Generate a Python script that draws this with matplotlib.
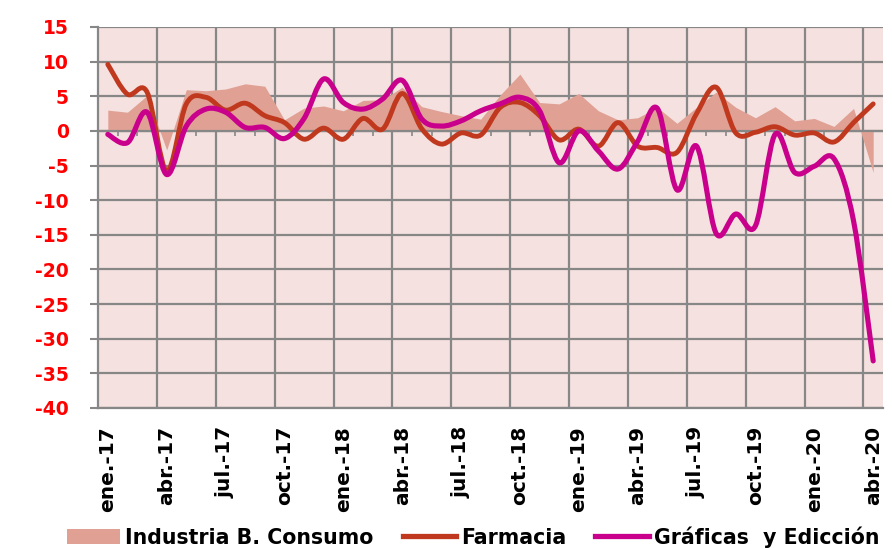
import numpy as np
import matplotlib
matplotlib.use("Agg")
import matplotlib.pyplot as plt
from matplotlib.path import Path
from matplotlib.patches import PathPatch, Patch
from matplotlib.lines import Line2D

# ---------------- data ----------------
meses = ["ene.", "feb.", "mar.", "abr.", "may.", "jun.", "jul.", "ago.", "sept.", "oct.", "nov.", "dic."]
years = ["17", "18", "19", "20"]
month_labels = [f"{m}-{y}" for y in years for m in meses][:40]

industria = [3.0, 2.7, 5.1, -2.75, 5.95, 5.8, 6.05, 6.8, 6.45, 1.6,
             3.3, 3.6, 2.9, 4.4, 4.5, 6.3, 3.5, 2.8, 2.2, 1.7,
             5.2, 8.2, 4.1, 3.9, 5.4, 2.9, 1.6, 1.9, 3.4, 1.1,
             3.4, 5.6, 3.4, 1.9, 3.5, 1.45, 1.8, 0.65, 3.25, -6.0]
farmacia = [9.6, 5.3, 5.6, -5.8, 3.9, 4.85, 3.0, 4.0, 2.2, 1.2,
            -1.2, 0.4, -1.2, 1.8, 0.25, 5.4, 0.3, -1.9, -0.3, -0.6,
            3.4, 4.1, 2.2, -1.3, 0.25, -2.2, 1.2, -2.2, -2.4, -3.1,
            2.5, 6.3, -0.3, -0.2, 0.6, -0.6, -0.3, -1.6, 1.2, 3.9]
graficas = [-0.5, -1.7, 2.7, -6.3, 0.7, 3.15, 2.7, 0.5, 0.5, -1.1,
            1.8, 7.5, 4.1, 3.15, 4.6, 7.3, 1.7, 0.7, 1.45, 2.9,
            3.9, 4.85, 2.9, -4.6, 0.0, -2.9, -5.5, -1.5, 3.25, -8.5,
            -2.2, -14.8, -12.0, -13.7, -0.5, -6.0, -5.1, -4.0, -13.0, -33.2]

series_names = ["Industria B. Consumo", "Farmacia", "Gráficas  y Edicción"]
yticks = list(range(-40, 16, 5))

# ---------------- style ----------------
C_BG = "#F5E1DF"
C_AREA = "#E0A094"
C_FARM = "#C0391E"
C_GRAF = "#C8008C"
C_GRID = "#878787"
FONT = "DejaVu Sans"

plt.rcParams["font.family"] = [FONT]

fig = plt.figure(figsize=(8.92, 5.48), dpi=100)
ax = fig.add_axes([98 / 892, 1 - 408 / 548, (883 - 98) / 892, (408 - 27) / 548])
ax.set_facecolor(C_BG)

x = np.arange(len(industria))


def smooth_path(xs, ys):
    xs = np.asarray(xs, float)
    ys = np.asarray(ys, float)
    n = len(xs)
    verts = [(xs[0], ys[0])]
    codes = [Path.MOVETO]
    for i in range(n - 1):
        i0 = max(i - 1, 0)
        i3 = min(i + 2, n - 1)
        c1 = (xs[i] + (xs[i + 1] - xs[i0]) / 6, ys[i] + (ys[i + 1] - ys[i0]) / 6)
        c2 = (xs[i + 1] - (xs[i3] - xs[i]) / 6, ys[i + 1] - (ys[i3] - ys[i]) / 6)
        verts += [c1, c2, (xs[i + 1], ys[i + 1])]
        codes += [Path.CURVE4] * 3
    return Path(verts, codes)


# area
ax.fill_between(x, 0, industria, color=C_AREA, lw=0, zorder=2)

# grid
for yv in yticks:
    ax.axhline(yv, color=C_GRID, lw=1.6, zorder=1)
for b in np.arange(2.5, len(x), 3):
    ax.axvline(b, color=C_GRID, lw=1.6, zorder=1)
# small month ticks on the zero line
ax.vlines(np.arange(0.5, len(x) - 1, 1), -0.75, 0, color=C_GRID, lw=1.2, zorder=1.5)
ax.axhline(0, color=C_GRID, lw=1.6, zorder=2.5)

# smoothed lines
ax.add_patch(PathPatch(smooth_path(x, farmacia), fill=False, edgecolor=C_FARM,
                       lw=3.5, capstyle="round", joinstyle="round", zorder=3))
ax.add_patch(PathPatch(smooth_path(x, graficas), fill=False, edgecolor=C_GRAF,
                       lw=3.7, capstyle="round", joinstyle="round", zorder=4))

ax.set_xlim(-0.5, len(x) - 0.5)
ax.set_ylim(-40, 15)

ax.set_yticks(yticks)
ax.set_yticklabels([str(v) for v in yticks], color="#FF0000", fontweight="bold", fontsize=13.5)
ax.tick_params(axis="y", length=6, width=1.5, color=C_GRID, pad=15)

ax.set_xticks(x[::3])
ax.set_xticklabels(month_labels[::3], rotation=90, fontweight="bold", fontsize=14.5,
                   va="top", ha="center")
ax.tick_params(axis="x", length=0, pad=13)

for s in ["top", "right"]:
    ax.spines[s].set_visible(False)
for s in ["left", "bottom"]:
    ax.spines[s].set_color(C_GRID)
    ax.spines[s].set_linewidth(1.6)

handles = [Patch(facecolor=C_AREA, edgecolor="none"),
           Line2D([], [], color=C_FARM, lw=3.8),
           Line2D([], [], color=C_GRAF, lw=3.8)]
fig.legend(handles, series_names, loc="center", bbox_to_anchor=(473 / 892, 1 - 537 / 548),
           ncol=3, frameon=False, prop={"weight": "bold", "size": 14.8},
           handlelength=2.6, handleheight=0.75, handletextpad=0.25, columnspacing=1.4,
           borderaxespad=0, borderpad=0)

fig.savefig("out.png", dpi=100, facecolor="white")
